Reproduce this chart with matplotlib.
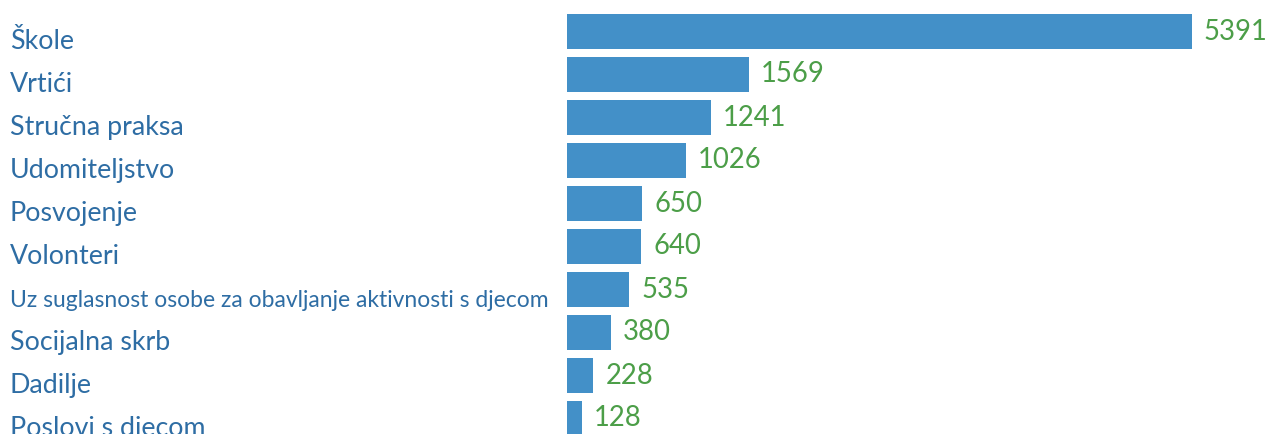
import matplotlib
matplotlib.use("Agg")
import matplotlib.pyplot as plt
import matplotlib.transforms as mtransforms

categories = ["Škole", "Vrtići", "Stručna praksa", "Udomiteljstvo", "Posvojenje",
              "Volonteri", "Uz suglasnost osobe za obavljanje aktivnosti s djecom",
              "Socijalna skrb", "Dadilje", "Poslovi s djecom"]
values = [5391, 1569, 1241, 1026, 650, 640, 535, 380, 228, 128]

W, H = 1267, 434
fig = plt.figure(figsize=(W / 100, H / 100), dpi=100)
plt.rcParams['font.family'] = ['Lato', 'DejaVu Sans']

left_px = 567
ax = fig.add_axes([left_px / W, 0, 1 - left_px / W, 1])
pos = list(range(len(categories)))
ax.barh(pos, values, height=0.81, color="#4390c8")
scale = 0.1159  # px per unit
ax.set_xlim(0, (W - left_px) / scale)
row = 43.0
first = 31.5
ax.set_ylim((H - first) / row, -first / row)
ax.axis("off")

label_tr = mtransforms.blended_transform_factory(fig.transFigure, ax.transData)
for i, (c, v) in enumerate(zip(categories, values)):
    fs = 19.3
    if len(c) > 30:
        fs = 16.5
    ax.text(10 / W, i + 0.41, c, transform=label_tr, ha="left", va="baseline",
            fontsize=fs, color="#2e6da4")
    ax.annotate(str(v), (v, i), xytext=(12 * 0.72, 0), textcoords="offset points",
                ha="left", va="center", fontsize=19.8, color="#4c9e48")

fig.savefig("out.png", dpi=100)
